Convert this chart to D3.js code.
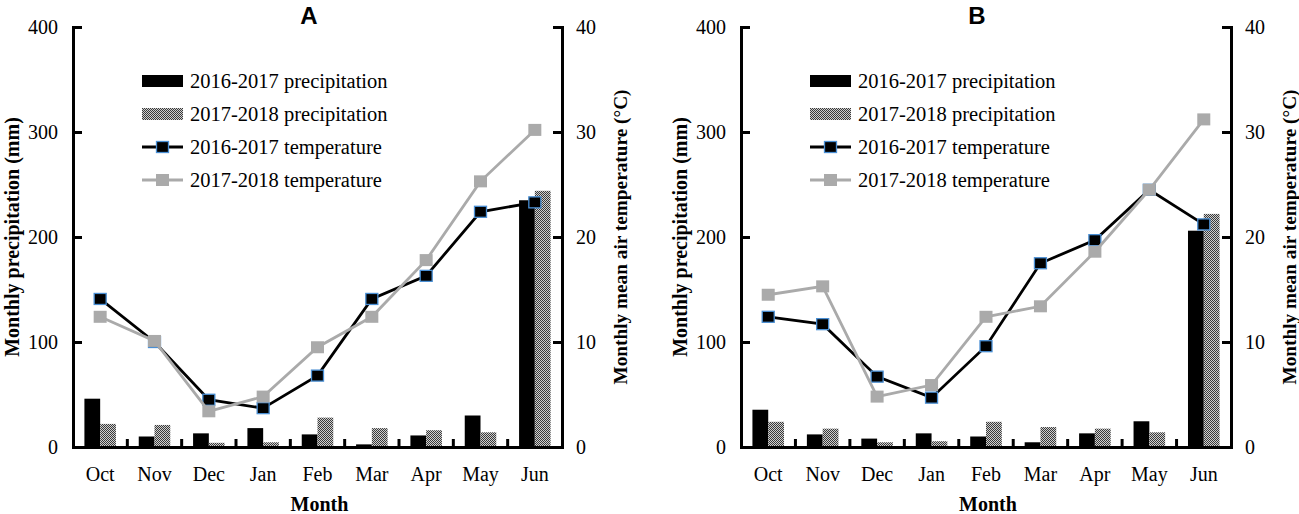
<!DOCTYPE html>
<html lang="en">
<head>
    <meta charset="UTF-8">
    <title>Monthly precipitation and temperature</title>
    <script src="https://cdnjs.cloudflare.com/ajax/libs/d3/7.6.1/d3.min.js"></script>
    <style>
        body {
            margin: 0;
            background-color: #fff;
        }
        svg {
            display: block;
        }
        svg text {
            font-family: "Liberation Serif", "Times New Roman", Times, "DejaVu Serif", serif;
        }
        svg text.panel-title {
            font-family: "Liberation Sans", Arial, sans-serif;
        }
    </style>
</head>
<body>
    <svg id="chart" width="1299" height="514"></svg>
    <script>
        // Data
        const months = ["Oct", "Nov", "Dec", "Jan", "Feb", "Mar", "Apr", "May", "Jun"];
        const precipTicks = [0, 100, 200, 300, 400];
        const tempTicks = [0, 10, 20, 30, 40];
        const seriesNames = ["2016-2017 precipitation", "2017-2018 precipitation",
            "2016-2017 temperature", "2017-2018 temperature"];

        // Panel A
        const precipA1617 = [46, 10, 13, 18, 12, 2.5, 11, 30, 235];
        const precipA1718 = [22, 21, 4, 4.5, 28, 18, 16, 14, 244];
        const tempA1617 = [14.1, 10.0, 4.5, 3.7, 6.8, 14.1, 16.3, 22.4, 23.3];
        const tempA1718 = [12.4, 10.1, 3.4, 4.8, 9.5, 12.4, 17.8, 25.3, 30.2];

        // Panel B
        const precipB1617 = [35.5, 12, 8, 13, 10, 4.5, 13, 24.5, 206];
        const precipB1718 = [24, 17.5, 4.5, 5.5, 24, 19, 17.5, 14, 222];
        const tempB1617 = [12.4, 11.7, 6.7, 4.7, 9.6, 17.5, 19.7, 24.5, 21.2];
        const tempB1718 = [14.5, 15.3, 4.8, 5.9, 12.4, 13.4, 18.6, 24.5, 31.2];

        const svg = d3.select("#chart");

        // stippled fill for the 2017-2018 bars
        const pat = svg.append("defs").append("pattern")
            .attr("id", "stipple")
            .attr("patternUnits", "userSpaceOnUse")
            .attr("width", 2)
            .attr("height", 2);
        pat.append("rect").attr("width", 2).attr("height", 2).attr("fill", "#cfcfcf");
        pat.append("rect").attr("width", 1).attr("height", 1).attr("fill", "#3a3a3a");
        pat.append("rect").attr("x", 1).attr("y", 1).attr("width", 1).attr("height", 1).attr("fill", "#3a3a3a");

        const black = "#000";
        const grey = "#aaaaaa";
        const markerEdge = "#4a8fd4";

        function drawPanel(cfg) {
            const top = 27, bottom = 447;
            const g = svg.append("g");

            const x = d3.scaleBand().domain(months).range([cfg.left, cfg.right]);
            const yP = d3.scaleLinear().domain([0, 400]).range([bottom, top]);
            const yT = d3.scaleLinear().domain([0, 40]).range([bottom, top]);
            const bw = x.bandwidth() * 0.29;
            const cx = m => x(m) + x.bandwidth() / 2;

            // bars
            g.append("g").selectAll("rect")
                .data(months)
                .join("rect")
                .attr("x", m => cx(m) - bw)
                .attr("y", (m, i) => yP(cfg.p1[i]))
                .attr("width", bw)
                .attr("height", (m, i) => bottom - yP(cfg.p1[i]))
                .attr("fill", black);

            g.append("g").selectAll("rect")
                .data(months)
                .join("rect")
                .attr("x", m => cx(m))
                .attr("y", (m, i) => yP(cfg.p2[i]))
                .attr("width", bw)
                .attr("height", (m, i) => bottom - yP(cfg.p2[i]))
                .attr("fill", "url(#stipple)");

            // temperature lines
            const line = d3.line()
                .x((d, i) => cx(months[i]))
                .y(d => yT(d));

            const series = [
                { values: cfg.t1, color: black, edge: markerEdge, w: 12, h: 11 },
                { values: cfg.t2, color: grey, edge: "none", w: 13, h: 12 }
            ];

            series.forEach(s => {
                g.append("path")
                    .datum(s.values)
                    .attr("fill", "none")
                    .attr("stroke", s.color)
                    .attr("stroke-width", 2.8)
                    .attr("d", line);

                g.append("g").selectAll("rect")
                    .data(s.values)
                    .join("rect")
                    .attr("x", (d, i) => cx(months[i]) - s.w / 2)
                    .attr("y", d => yT(d) - s.h / 2)
                    .attr("width", s.w)
                    .attr("height", s.h)
                    .attr("fill", s.color)
                    .attr("stroke", s.edge)
                    .attr("stroke-width", 1.3);
            });

            // axes
            const leftAxis = d3.axisLeft(yP).tickValues(precipTicks)
                .tickSizeInner(-9).tickSizeOuter(0).tickPadding(15);
            const rightAxis = d3.axisRight(yT).tickValues(tempTicks)
                .tickSizeInner(-9).tickSizeOuter(0).tickPadding(14);
            const bottomAxis = d3.axisBottom(x).tickSize(0).tickPadding(20);

            const ax = [
                g.append("g").attr("transform", `translate(${cfg.left},0)`).call(leftAxis),
                g.append("g").attr("transform", `translate(${cfg.right},0)`).call(rightAxis),
                g.append("g").attr("transform", `translate(0,${bottom})`).call(bottomAxis)
            ];
            ax.forEach(a => {
                a.attr("font-family", null);
                a.select(".domain").attr("stroke", black).attr("stroke-width", 3)
                    .attr("stroke-linecap", "square");
                a.selectAll(".tick line").attr("stroke", black).attr("stroke-width", 3);
                a.selectAll(".tick text")
                    .attr("font-size", 20)
                    .attr("fill", black);
            });

            // small separators between months on the x axis
            g.append("g").selectAll("line")
                .data(months.slice(1))
                .join("line")
                .attr("x1", m => x(m))
                .attr("x2", m => x(m))
                .attr("y1", bottom)
                .attr("y2", bottom - 8)
                .attr("stroke", black)
                .attr("stroke-width", 3);

            // titles
            g.append("text")
                .attr("class", "panel-title")
                .attr("x", cfg.titleX)
                .attr("y", 24)
                .attr("text-anchor", "middle")
                .attr("font-size", 24)
                .attr("font-weight", "bold")
                .text(cfg.title);

            g.append("text")
                .attr("transform", `translate(${cfg.left - 61},237) rotate(-90)`)
                .attr("text-anchor", "middle")
                .attr("dy", "0.35em")
                .attr("font-size", 20)
                .attr("font-weight", "bold")
                .text("Monthly precipitation (mm)");

            g.append("text")
                .attr("transform", `translate(${cfg.right + 58},237) rotate(-90)`)
                .attr("text-anchor", "middle")
                .attr("dy", "0.35em")
                .attr("font-size", 19.3)
                .attr("font-weight", "bold")
                .text("Monthly mean air temperature (°C)");

            g.append("text")
                .attr("x", (cfg.left + cfg.right) / 2 + 2)
                .attr("y", 511)
                .attr("text-anchor", "middle")
                .attr("font-size", 20)
                .attr("font-weight", "bold")
                .text("Month");

            // legend
            const legend = g.append("g")
                .attr("transform", `translate(${cfg.left + 69},81)`);

            seriesNames.forEach((name, i) => {
                const row = legend.append("g").attr("transform", `translate(0,${i * 33})`);
                if (i < 2) {
                    row.append("rect")
                        .attr("x", 0).attr("y", -6)
                        .attr("width", 41).attr("height", 12)
                        .attr("fill", i === 0 ? black : "url(#stipple)");
                } else {
                    const s = series[i - 2];
                    row.append("line")
                        .attr("x1", 0).attr("x2", 41)
                        .attr("stroke", s.color)
                        .attr("stroke-width", 2.8);
                    row.append("rect")
                        .attr("x", 20.5 - s.w / 2).attr("y", -s.h / 2)
                        .attr("width", s.w).attr("height", s.h)
                        .attr("fill", s.color)
                        .attr("stroke", s.edge)
                        .attr("stroke-width", 1.3);
                }
                row.append("text")
                    .attr("x", 48)
                    .attr("dy", "0.35em")
                    .attr("font-size", 20.5)
                    .text(name);
            });
        }

        drawPanel({ left: 73, right: 562, title: "A", titleX: 309,
            p1: precipA1617, p2: precipA1718, t1: tempA1617, t2: tempA1718 });
        drawPanel({ left: 741, right: 1231, title: "B", titleX: 977,
            p1: precipB1617, p2: precipB1718, t1: tempB1617, t2: tempB1718 });
    </script>
</body>
</html>
